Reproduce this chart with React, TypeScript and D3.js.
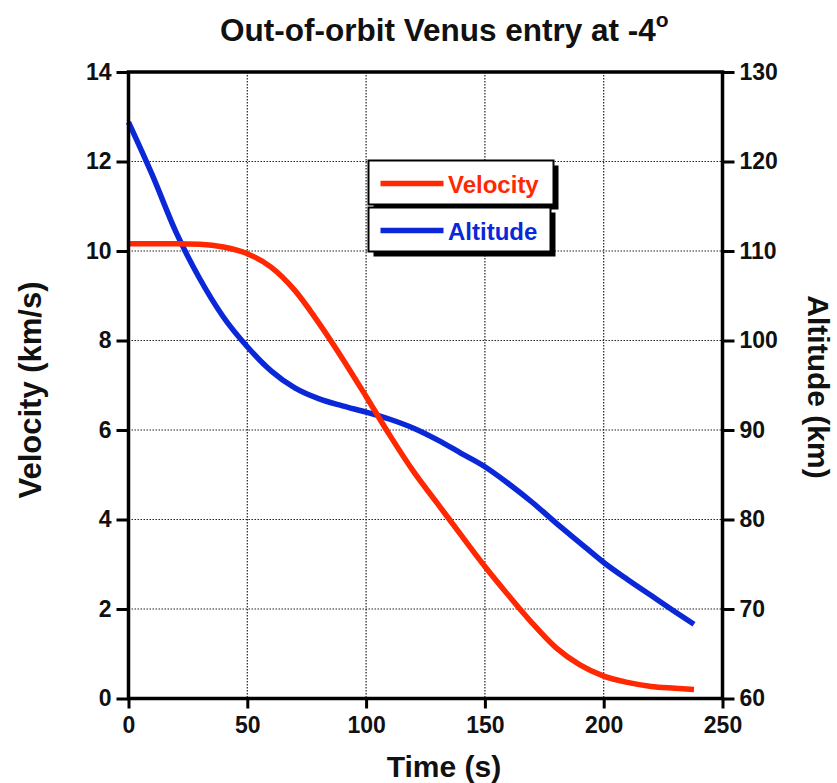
import { useEffect, useRef } from "react";
import * as d3 from "d3";

const WIDTH = 837;
const HEIGHT = 783;
const plot = { left: 128.5, right: 722.5, top: 72, bottom: 698.5 };
const FONT = "'Liberation Sans', Arial, Helvetica, sans-serif";
const RED = "#ff2800";
const BLUE = "#0a28d8";

// time (s)
const TIME: number[] = [0, 10, 20, 30, 40, 50, 60, 70, 80, 90, 100, 110, 120, 130, 140, 150, 160, 170, 180, 190, 200, 210, 220, 230, 238];
// velocity (km/s)
const VELOCITY: number[] = [10.16, 10.16, 10.16, 10.15, 10.09, 9.94, 9.64, 9.12, 8.4, 7.6, 6.75, 5.88, 5.07, 4.36, 3.65, 2.95, 2.3, 1.68, 1.13, 0.75, 0.5, 0.36, 0.27, 0.23, 0.2];
// altitude (km)
const ALTITUDE: number[] = [124.4, 118.5, 112.1, 106.9, 102.6, 99.3, 96.6, 94.7, 93.5, 92.7, 92.0, 91.2, 90.2, 88.9, 87.4, 85.9, 84.0, 81.9, 79.6, 77.4, 75.2, 73.3, 71.5, 69.7, 68.3];

const X_TICKS: number[] = [0, 50, 100, 150, 200, 250];
const V_TICKS: number[] = [0, 2, 4, 6, 8, 10, 12, 14];
const ALT_TICKS: number[] = [60, 70, 80, 90, 100, 110, 120, 130];
const SERIES: string[] = ["Velocity", "Altitude"];

const App = () => {
  const svgRef = useRef<SVGSVGElement | null>(null);

  useEffect(() => {
    if (!svgRef.current) return;
    const svg = d3.select(svgRef.current);
    svg.selectAll("*").remove();

    const x = d3.scaleLinear().domain([0, 250]).range([plot.left, plot.right]);
    const yV = d3.scaleLinear().domain([0, 14]).range([plot.bottom, plot.top]);
    const yA = d3.scaleLinear().domain([60, 130]).range([plot.bottom, plot.top]);

    // grid
    const grid = svg.append("g").attr("stroke", "#222").attr("stroke-width", 1.2).attr("stroke-dasharray", "1.5,1.5");
    X_TICKS.slice(1, -1).forEach((t) => {
      grid.append("line").attr("x1", x(t)).attr("x2", x(t)).attr("y1", plot.top).attr("y2", plot.bottom);
    });
    V_TICKS.slice(1, -1).forEach((v) => {
      grid.append("line").attr("x1", plot.left).attr("x2", plot.right).attr("y1", yV(v)).attr("y2", yV(v));
    });

    // curves
    const vLine = d3
      .line<number>()
      .x((_, i) => x(TIME[i]))
      .y((d) => yV(d))
      .curve(d3.curveMonotoneX);
    const aLine = d3
      .line<number>()
      .x((_, i) => x(TIME[i]))
      .y((d) => yA(d))
      .curve(d3.curveMonotoneX);

    svg.append("path").datum(ALTITUDE).attr("fill", "none").attr("stroke", BLUE).attr("stroke-width", 5.5).attr("d", aLine);
    svg.append("path").datum(VELOCITY).attr("fill", "none").attr("stroke", RED).attr("stroke-width", 5.5).attr("d", vLine);

    // axes
    const styleAxis = (g: d3.Selection<SVGGElement, unknown, null, undefined>) => {
      g.select(".domain").remove();
      g.selectAll(".tick line").attr("stroke", "#000").attr("stroke-width", 3);
      g.selectAll(".tick text")
        .attr("fill", "#111")
        .attr("font-family", FONT)
        .attr("font-weight", "bold")
        .attr("font-size", 23);
    };

    svg
      .append("g")
      .attr("transform", `translate(0, ${plot.bottom})`)
      .call(d3.axisBottom(x).tickValues(X_TICKS).tickSize(10).tickSizeOuter(0).tickPadding(8))
      .call(styleAxis);
    svg
      .append("g")
      .attr("transform", `translate(${plot.left}, 0)`)
      .call(d3.axisLeft(yV).tickValues(V_TICKS).tickSize(12).tickSizeOuter(0).tickPadding(5))
      .call(styleAxis);
    svg
      .append("g")
      .attr("transform", `translate(${plot.right}, 0)`)
      .call(d3.axisRight(yA).tickValues(ALT_TICKS).tickSize(12).tickSizeOuter(0).tickPadding(5))
      .call(styleAxis);

    // frame
    svg
      .append("rect")
      .attr("x", plot.left)
      .attr("y", plot.top)
      .attr("width", plot.right - plot.left)
      .attr("height", plot.bottom - plot.top)
      .attr("fill", "none")
      .attr("stroke", "#000")
      .attr("stroke-width", 3.5);

    // legend
    const boxes = [
      { x: 368.5, y: 160.5, w: 185, h: 44 },
      { x: 368.5, y: 207.5, w: 182, h: 44 },
    ];
    const lg = svg.append("g");
    SERIES.forEach((name, i) => {
      const b = boxes[i];
      const color = i === 0 ? RED : BLUE;
      lg.append("rect").attr("x", b.x + 5).attr("y", b.y + 5).attr("width", b.w).attr("height", b.h).attr("fill", "#000");
      lg.append("rect")
        .attr("x", b.x)
        .attr("y", b.y)
        .attr("width", b.w)
        .attr("height", b.h)
        .attr("fill", "#fff")
        .attr("stroke", "#000")
        .attr("stroke-width", 2);
      const cy = b.y + 23;
      lg.append("line").attr("x1", 380.5).attr("x2", 443.5).attr("y1", cy).attr("y2", cy).attr("stroke", color).attr("stroke-width", 5.5);
      lg.append("text")
        .attr("x", 448)
        .attr("y", cy + 9)
        .attr("fill", color)
        .attr("font-family", FONT)
        .attr("font-weight", "bold")
        .attr("font-size", 24)
        .text(name);
    });

    // title
    const title = svg
      .append("text")
      .attr("x", 220)
      .attr("y", 41)
      .attr("fill", "#111")
      .attr("font-family", FONT)
      .attr("font-weight", "bold")
      .attr("font-size", 31.5);
    title.append("tspan").text("Out-of-orbit Venus entry at -4");
    title.append("tspan").attr("font-size", 21).attr("dy", -14).text("o");

    // axis labels
    svg
      .append("text")
      .attr("x", 444)
      .attr("y", 777)
      .attr("text-anchor", "middle")
      .attr("fill", "#111")
      .attr("font-family", FONT)
      .attr("font-weight", "bold")
      .attr("font-size", 30)
      .text("Time (s)");
    svg
      .append("text")
      .attr("transform", `translate(41, 390) rotate(-90)`)
      .attr("text-anchor", "middle")
      .attr("fill", "#111")
      .attr("font-family", FONT)
      .attr("font-weight", "bold")
      .attr("font-size", 31)
      .text("Velocity (km/s)");
    svg
      .append("text")
      .attr("transform", `translate(808, 387) rotate(90)`)
      .attr("text-anchor", "middle")
      .attr("fill", "#111")
      .attr("font-family", FONT)
      .attr("font-weight", "bold")
      .attr("font-size", 30)
      .text("Altitude (km)");
  }, []);

  return (
    <div style={{ position: "absolute", left: 0, top: 0 }}>
      <svg ref={svgRef} width={WIDTH} height={HEIGHT} style={{ display: "block", background: "#fff" }} />
    </div>
  );
};

export default App;
